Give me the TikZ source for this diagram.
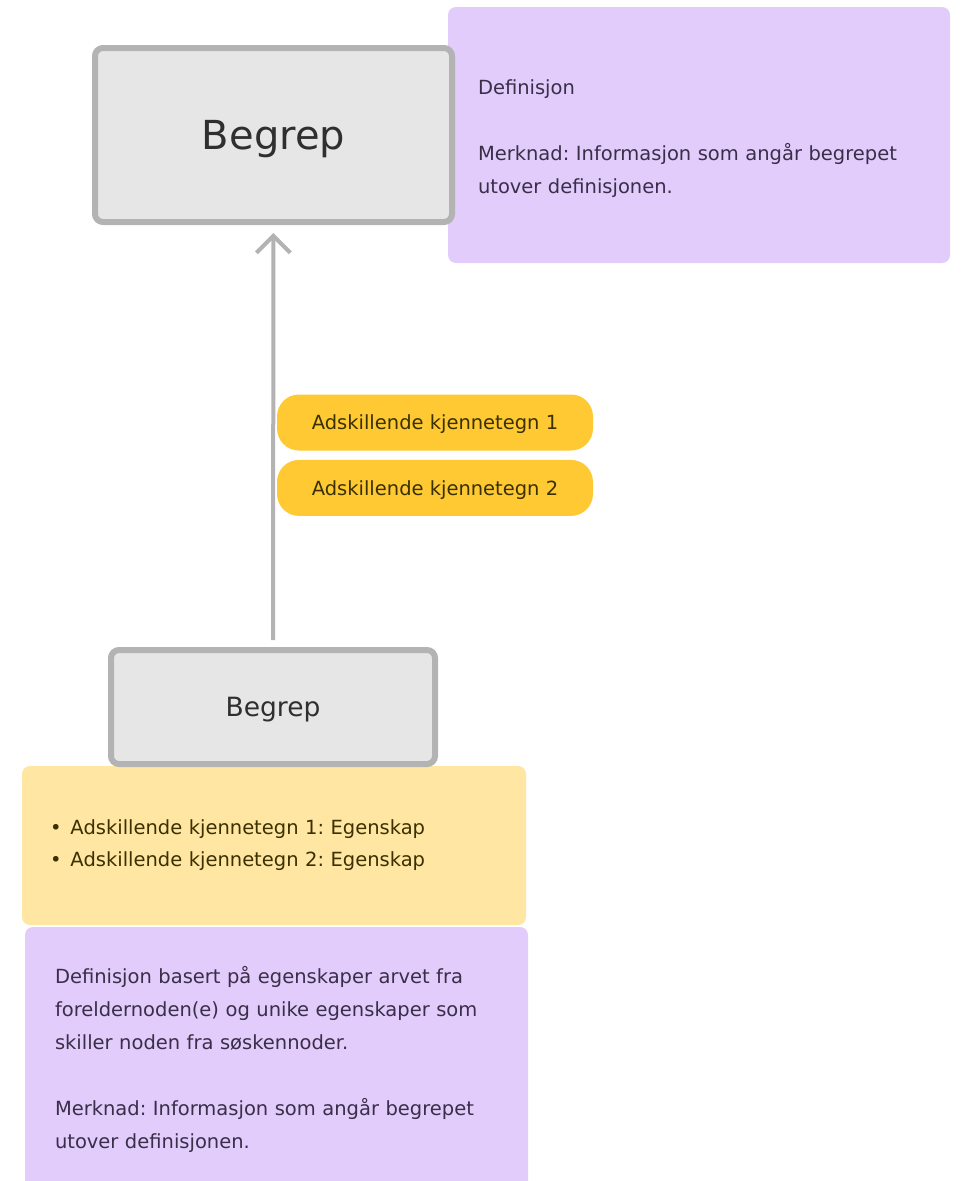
\documentclass[tikz,border=0pt]{standalone}
\usepackage{fontspec}
\setmainfont{DejaVu Sans}
\frenchspacing
\usetikzlibrary{positioning,arrows.meta}
\definecolor{begrepfyll}{HTML}{E6E6E6}
\definecolor{begreplinje}{HTML}{B3B3B3}
\definecolor{lilla}{HTML}{E1CCFB}
\definecolor{gul}{HTML}{FFC933}
\definecolor{lysgul}{HTML}{FFE6A3}
\definecolor{tekst}{HTML}{2F2F2F}
\definecolor{lillatekst}{HTML}{3A2E48}
\definecolor{gultekst}{HTML}{3A3000}
\tikzset{
	begrep/.style={draw=begreplinje,fill=begrepfyll,line width=6pt,rounded corners=8pt,text=tekst,text depth=0pt},
	notat/.style={fill=lilla,rounded corners=8pt,text=lillatekst,align=left,inner xsep=30pt,font=\fontsize{19.5}{33}\selectfont},
	kjennetegn/.style={fill=gul,rounded corners=22pt,minimum width=316pt,minimum height=56pt,text=gultekst,text depth=0pt,font=\fontsize{19.5}{23}\selectfont},
	pil/.style={draw=begreplinje,line width=4pt,-{Straight Barb[length=17pt,width=34pt]}},
}

\begin{document}
\begin{tikzpicture}[x=1pt,y=-1pt]
		\useasboundingbox[fill=white] (0,0) rectangle (961,1181);
		\node (def) [notat,minimum width=502pt,minimum height=256pt,text width=442pt] at (699,135) {\rule{0pt}{22pt}Definisjon\\[33pt]Merknad: Informasjon som angår begrepet\\utover definisjonen.};
		\node (ovre) [begrep,minimum width=357pt,minimum height=174pt,font=\fontsize{40}{48}\selectfont] at (273.5,135) {Begrep};
		\node (liste) [fill=lysgul,rounded corners=8pt,text=gultekst,align=left,inner xsep=28pt,minimum width=504pt,minimum height=159pt,text width=448pt,font=\fontsize{19.5}{32}\selectfont] at (274,845.5) {\textbullet\hspace{9pt}Adskillende kjennetegn 1: Egenskap\\\textbullet\hspace{9pt}Adskillende kjennetegn 2: Egenskap};
		\node (nedre) [begrep,minimum width=324pt,minimum height=114pt,font=\fontsize{26.5}{32}\selectfont] at (273,707) {Begrep};
		\node (def2) [notat,minimum width=503pt,minimum height=264pt,text width=443pt] at (276.5,1059) {Definisjon basert på egenskaper arvet fra\\foreldernoden(e) og unike egenskaper som\\skiller noden fra søskennoder.\\[33pt]Merknad: Informasjon som angår begrepet\\utover definisjonen.};
		\draw[pil,shorten <=7pt,shorten >=8pt] (nedre) -- (ovre);
		\node (k1) [kjennetegn] at (435,422.5) {Adskillende kjennetegn 1};
		\node (k2) [kjennetegn,below=9pt of k1] {Adskillende kjennetegn 2};
	\end{tikzpicture}
\end{document}
